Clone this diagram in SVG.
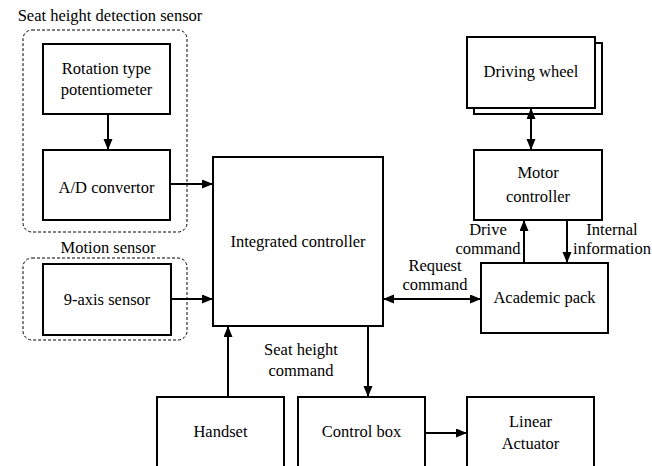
<svg xmlns="http://www.w3.org/2000/svg" width="652" height="466" viewBox="0 0 652 466">
<style>
.box{fill:#fff;stroke:#000;stroke-width:2}
.grp{fill:none;stroke:#000;stroke-width:1;stroke-dasharray:3,2}
.t{font-family:"Liberation Serif","Times New Roman",Times,Tinos,"Noto Serif","DejaVu Serif",FreeSerif,serif;font-size:16.5px;fill:#000;text-anchor:middle}
.c{fill:none;stroke:#000;stroke-width:2}
</style>
<defs>
<marker id="ah" markerUnits="userSpaceOnUse" markerWidth="12" markerHeight="10" refX="11" refY="4.5" orient="auto-start-reverse"><path d="M0,0 L11,4.5 L0,9 z" fill="#000"/></marker>
</defs>
<rect width="652" height="466" fill="#fff"/>
<g id="seat-height-sensor-group">
<rect class="grp" x="23" y="30" width="164" height="202" rx="9"/>
<text class="t" x="110" y="20.5">Seat height detection sensor</text>
</g>
<g id="motion-sensor-group">
<rect class="grp" x="23" y="258" width="164" height="82" rx="9"/>
<text class="t" x="108" y="252.5">Motion sensor</text>
</g>
<g id="potentiometer">
<rect class="box" x="43" y="44" width="127" height="70"/>
<text class="t" x="106.5" y="74">Rotation type</text>
<text class="t" x="106.5" y="95">potentiometer</text>
</g>
<g id="ad-convertor">
<rect class="box" x="43" y="150" width="127" height="70"/>
<text class="t" x="106.5" y="193">A/D convertor</text>
</g>
<g id="nine-axis">
<rect class="box" x="43" y="264" width="128" height="71"/>
<text class="t" x="107" y="305">9-axis sensor</text>
</g>
<g id="integrated-controller">
<rect class="box" x="213" y="157" width="170" height="169"/>
<text class="t" x="298" y="247">Integrated controller</text>
</g>
<g id="driving-wheel">
<rect class="box" x="474" y="43" width="128" height="71"/>
<rect class="box" x="467" y="37" width="128" height="71"/>
<text class="t" x="531" y="77">Driving wheel</text>
</g>
<g id="motor-controller">
<rect class="box" x="474" y="150" width="128" height="70"/>
<text class="t" x="538" y="178">Motor</text>
<text class="t" x="538" y="202">controller</text>
</g>
<g id="academic-pack">
<rect class="box" x="481" y="263" width="127" height="70"/>
<text class="t" x="544.5" y="303">Academic pack</text>
</g>
<g id="handset">
<rect class="box" x="157" y="397" width="127" height="80"/>
<text class="t" x="220.5" y="437">Handset</text>
</g>
<g id="control-box">
<rect class="box" x="298" y="397" width="127" height="80"/>
<text class="t" x="361.5" y="437">Control box</text>
</g>
<g id="linear-actuator">
<rect class="box" x="467" y="397" width="127" height="80"/>
<text class="t" x="530.5" y="427">Linear</text>
<text class="t" x="530.5" y="449">Actuator</text>
</g>
<g id="connectors">
<line class="c" x1="108" y1="114" x2="108" y2="150" marker-end="url(#ah)"/>
<line class="c" x1="170" y1="184" x2="213" y2="184" marker-end="url(#ah)"/>
<line class="c" x1="171" y1="299" x2="213" y2="299" marker-end="url(#ah)"/>
<line class="c" x1="531" y1="108" x2="531" y2="150" marker-start="url(#ah)" marker-end="url(#ah)"/>
<line class="c" x1="524" y1="263" x2="524" y2="220" marker-end="url(#ah)"/>
<line class="c" x1="567" y1="220" x2="567" y2="263" marker-end="url(#ah)"/>
<line class="c" x1="383" y1="299" x2="481" y2="299" marker-start="url(#ah)" marker-end="url(#ah)"/>
<line class="c" x1="228" y1="397" x2="228" y2="326" marker-end="url(#ah)"/>
<line class="c" x1="368" y1="326" x2="368" y2="397" marker-end="url(#ah)"/>
<line class="c" x1="425" y1="433" x2="467" y2="433" marker-end="url(#ah)"/>
<text class="t" x="488" y="235">Drive</text>
<text class="t" x="488" y="254">command</text>
<text class="t" x="612" y="235">Internal</text>
<text class="t" x="612" y="254">information</text>
<text class="t" x="435" y="271">Request</text>
<text class="t" x="435" y="290">command</text>
<text class="t" x="301" y="355">Seat height</text>
<text class="t" x="301" y="376">command</text>
</g>
</svg>
